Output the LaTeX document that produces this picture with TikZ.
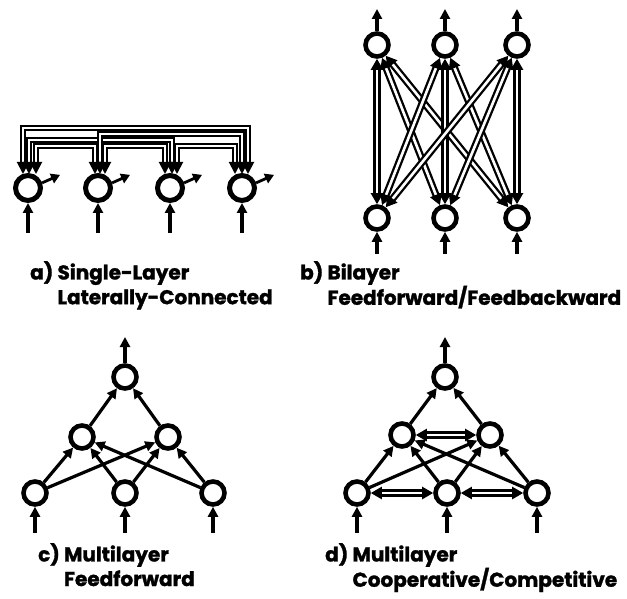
\documentclass[tikz,border=0pt]{standalone}
\usepackage{fontspec}
\newfontfamily\labfont{Poppins}[BoldFeatures={FakeBold=1.5}]
\usetikzlibrary{arrows.meta,calc}
\begin{document}
\begin{tikzpicture}[x=1pt,y=-1pt,
  neuronA/.style={circle,draw,line width=5pt,minimum size=25pt,inner sep=0pt},
  neuron/.style={circle,draw,line width=4.6pt,minimum size=23pt,inner sep=0pt},
  arr/.style={line width=3.2pt,-{Triangle[length=10pt,width=10pt]}},
  sarr/.style={line width=2.8pt,-{Triangle[length=9pt,width=10pt]}},
  dbl/.style={line width=2.3pt,double=white,double distance=2.6pt,{Triangle[length=11pt,width=12pt]}-{Triangle[length=11pt,width=12pt]}},
  bus/.style={line width=1.9pt,double=white,double distance=1.6pt,{Triangle[length=12pt,width=12pt]}-{Triangle[length=12pt,width=12pt]}},
  lab/.style={anchor=north west,inner sep=0pt,align=left,font=\labfont\bfseries\fontsize{20}{18}\selectfont}]
\useasboundingbox (0,0) rectangle (627,599);
\fill[white] (0,0) rectangle (627,599);

% ---------- panel a ----------
\foreach \i/\x in {1/28,2/98,3/170,4/242}{
  \node[neuronA] (a\i) at (\x,188) {};
  \coordinate (a\i in) at (\x,233);
  \draw[arr] (a\i in) -- (a\i);
  \coordinate (a\i out) at ($(a\i.20)+(18,-8)$);
  \draw[sarr] (a\i.20) -- (a\i out);
}
\foreach \n/\l/\m/\r in {a1/-5/1/8, a2/-3/2/7, a3/-5/2/7, a4/-7/0/6}{
  \coordinate (\n L) at ($(\n.center)+(\l,-14)$);
  \coordinate (\n M) at ($(\n.center)+(\m,-14)$);
  \coordinate (\n R) at ($(\n.center)+(\r,-14)$);
}
\draw[bus] (a1L) -- (a1L |- 0,128) -- (a4R |- 0,128) -- (a4R);
\draw[bus] (a1M) -- (a1M |- 0,140) -- (a3M |- 0,140) -- (a3M);
\draw[bus] (a2M) -- (a2M |- 0,134) -- (a4M |- 0,134) -- (a4M);
\draw[bus] (a1R) -- (a1R |- 0,146) -- (a2L |- 0,146) -- (a2L);
\draw[bus] (a2R) -- (a2R |- 0,146) -- (a3L |- 0,146) -- (a3L);
\draw[bus] (a3R) -- (a3R |- 0,146) -- (a4L |- 0,146) -- (a4L);

% ---------- panel b ----------
\foreach \i/\x in {1/377,2/445,3/517}{
  \node[neuron] (t\i) at (\x,45) {};
  \node[neuron] (u\i) at (\x,218) {};
  \coordinate (t\i out) at (\x,9);
  \coordinate (u\i in) at (\x,254);
  \draw[arr] (t\i) -- (t\i out);
  \draw[arr] (u\i in) -- (u\i);
}
\foreach \i in {1,2,3}{\foreach \j in {1,2,3}{\draw[dbl] (t\i) -- (u\j);}}

% ---------- panel c ----------
\node[neuron] (ct) at (125,377) {};
\node[neuron] (cm1) at (82,437) {};
\node[neuron] (cm2) at (168,437) {};
\node[neuron] (cb1) at (35,493) {};
\node[neuron] (cb2) at (125,493) {};
\node[neuron] (cb3) at (213,493) {};
\coordinate (ct out) at (125,337);
\draw[arr] (ct) -- (ct out);
\foreach \i/\x in {1/35,2/125,3/213}{
  \coordinate (cb\i in) at (\x,533);
  \draw[arr] (cb\i in) -- (cb\i);
  \foreach \j in {1,2}{\draw[arr] (cb\i) -- (cm\j);}
}
\foreach \j in {1,2}{\draw[arr] (cm\j) -- (ct);}

% ---------- panel d ----------
\node[neuron] (dt) at (445,377) {};
\node[neuron] (dm1) at (402,435) {};
\node[neuron] (dm2) at (490,435) {};
\node[neuron] (db1) at (357,493) {};
\node[neuron] (db2) at (447,493) {};
\node[neuron] (db3) at (537,493) {};
\coordinate (dt out) at (445,337);
\draw[arr] (dt) -- (dt out);
\foreach \i/\x in {1/357,2/447,3/537}{
  \coordinate (db\i in) at (\x,533);
  \draw[arr] (db\i in) -- (db\i);
  \foreach \j in {1,2}{\draw[arr] (db\i) -- (dm\j);}
}
\foreach \j in {1,2}{\draw[arr] (dm\j) -- (dt);}
\draw[dbl] (dm1) -- (dm2);
\draw[dbl] (db1) -- (db2);
\draw[dbl] (db2) -- (db3);

% ---------- labels ----------
\node[lab] (la) at (30,261) {a) Single-Layer\\\phantom{a) }Laterally-Connected};
\node[lab] (lb) at (300,261) {b) Bilayer\\\phantom{b) }Feedforward/Feedbackward};
\node[lab] (lc) at (38,543) {c) Multilayer\\\phantom{c) }Feedforward};
\node[lab] (ld) at (325,543) {d) Multilayer\\\phantom{d) }Cooperative/Competitive};
\end{tikzpicture}
\end{document}
